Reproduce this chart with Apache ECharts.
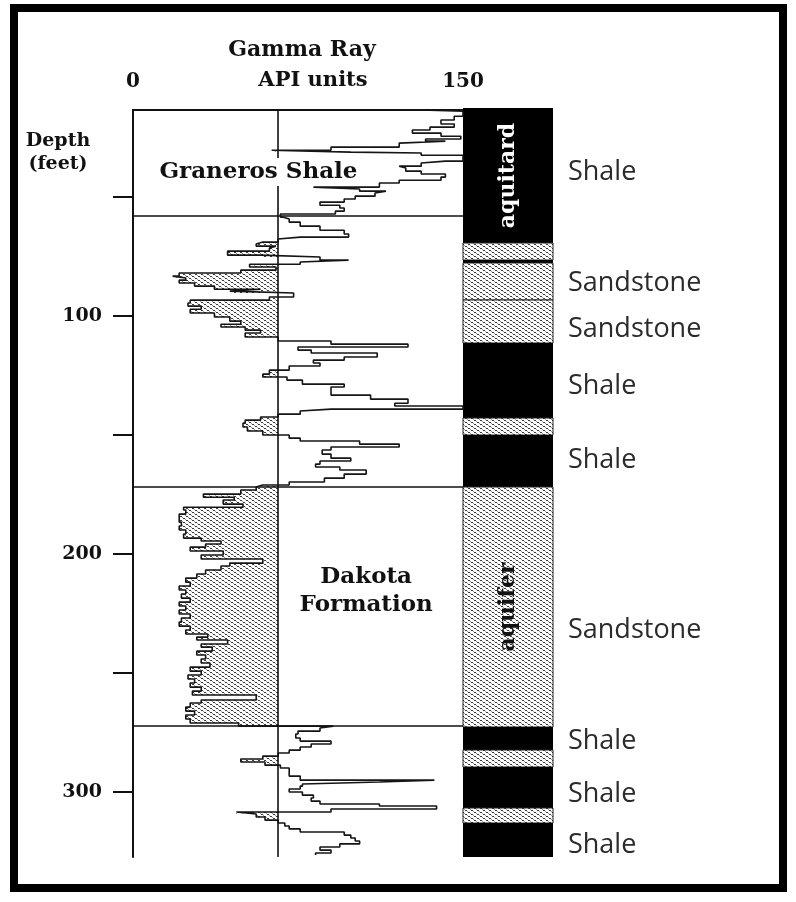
<!DOCTYPE html>
<html>
<head>
<meta charset="utf-8">
<title>Gamma ray log – Graneros Shale and Dakota Formation</title>
<script src="https://cdn.jsdelivr.net/npm/echarts@6.0.0/dist/echarts.min.js"></script>
<style>
  html, body { margin: 0; padding: 0; background: #fff; }
  #chart { width: 796px; height: 902px; }
</style>
</head>
<body>
<div id="chart"></div>
<script>
// Gamma ray reading (API units) at each depth sample (feet)
const grDepth = [
  13.4, 13.9, 14.3, 16.0, 17.6, 19.3, 20.6, 21.8, 23.1, 24.4, 25.6, 26.5, 27.3, 29.0, 30.3,
  31.1, 31.5, 32.4, 33.2, 34.9, 35.7, 37.0, 37.8, 39.1, 40.3, 41.6, 42.9, 44.1, 45.8, 46.6,
  47.5, 48.3, 49.6, 50.8, 52.1, 53.4, 54.6, 55.9, 57.1, 58.4,
  59.2, 60.5, 62.2, 63.9, 65.5, 66.8, 67.6, 68.9, 69.7, 70.6, 71.4, 72.7, 74.4, 75.2, 76.5,
  77.3, 78.2, 79.4, 80.7, 81.9, 83.2, 84.0, 84.9, 86.1, 87.4, 88.7, 89.5, 90.3, 92.0, 93.3,
  94.5, 95.8, 97.1, 98.7, 100.4, 102.1, 103.4, 104.6, 105.9, 107.1, 108.8, 110.5, 111.8, 113.0, 114.3,
  115.5, 117.2, 118.5, 119.7, 121.0, 122.7, 124.4, 125.6, 126.9, 128.6, 129.8, 131.5, 133.2, 134.9, 136.6,
  137.8, 139.1, 139.9, 141.2, 142.4, 143.7, 145.0, 146.6, 148.3, 150.0, 151.3, 152.5, 153.8, 155.0, 156.3,
  158.0, 159.7, 160.9, 162.2, 163.4, 164.7, 166.4, 168.1, 169.7, 171.0,
  171.8, 173.1, 174.8, 176.1, 177.3, 179.0, 180.3, 181.5, 183.2, 184.9, 186.6, 188.2, 189.9, 191.6, 193.3,
  194.5, 195.8, 197.1, 198.7, 200.4, 202.1, 203.8, 205.0, 206.7, 208.4, 210.1, 211.8, 213.4, 215.1, 216.8,
  218.5, 220.2, 221.8, 223.5, 225.2, 226.9, 228.6, 230.3, 231.9, 233.6, 234.9, 236.1, 237.8, 239.1, 240.8,
  242.4, 244.1, 245.8, 247.5, 249.2, 250.8, 252.5, 254.2, 255.9, 257.6, 259.2, 261.3, 262.6, 264.3, 266.0,
  267.6, 269.3, 271.0, 272.3,
  273.1, 274.4, 275.6, 277.3, 278.6, 279.8, 281.1, 282.4, 283.6, 284.9, 286.1, 287.4, 288.7, 289.9, 291.6,
  293.3, 295.0, 295.8, 296.6, 297.5, 298.7, 300.0, 301.3, 302.5, 303.8, 305.0, 305.9, 307.1, 308.4, 309.2,
  310.5, 311.8, 313.0, 314.3, 315.5, 316.8, 318.1, 319.3, 320.6, 321.8, 323.1, 324.4, 325.6, 326.5
];
const grApi = [
  121, 131, 150, 150, 146, 140, 146, 135, 127, 140, 149, 133, 142, 121, 90,
  63, 99, 131, 150, 150, 142, 131, 121, 124, 131, 142, 140, 121, 112, 82,
  103, 115, 110, 101, 96, 85, 94, 96, 92, 67,
  68, 71, 76, 85, 96, 98, 76, 66, 59, 56, 65, 62, 43, 58, 85,
  98, 76, 53, 65, 49, 21, 18, 24, 21, 28, 37, 58, 44, 73, 62,
  26, 25, 31, 26, 37, 44, 49, 40, 51, 58, 51, 66, 90, 125, 75,
  81, 111, 96, 82, 85, 71, 62, 59, 70, 77, 96, 90, 90, 108, 125,
  119, 150, 90, 76, 66, 58, 51, 50, 52, 59, 71, 76, 103, 121, 90,
  86, 90, 99, 85, 83, 94, 106, 96, 87, 71,
  59, 56, 49, 32, 46, 41, 50, 23, 24, 21, 21, 22, 21, 24, 23,
  31, 40, 33, 26, 41, 31, 59, 44, 40, 33, 29, 24, 26, 21, 24,
  22, 26, 21, 24, 21, 26, 22, 21, 26, 24, 34, 29, 43, 31, 36,
  29, 33, 31, 35, 26, 31, 25, 28, 26, 31, 27, 56, 31, 26, 24,
  28, 24, 26, 48,
  91, 85, 75, 74, 76, 90, 81, 76, 71, 66, 59, 49, 60, 67, 71,
  71, 76, 137, 112, 77, 76, 71, 77, 82, 81, 85, 112, 138, 90, 47,
  56, 60, 66, 69, 71, 76, 96, 99, 101, 103, 94, 85, 90, 83
];

// Shale baseline (API); readings left of it are shaded as sand
const shaleBaseline = 66;

// Formation boundaries (feet) and formation names
const formationTops = [58.0, 171.8, 272.3];
const formationNames = ['Graneros Shale', 'Dakota\nFormation'];

// Lithology column
const lithoTop  = [12.6, 69.3, 76.5, 77.9, 93.3, 111.3, 142.9, 150.0, 171.8, 272.7, 282.4, 289.5, 306.7, 313.0];
const lithoBase = [69.3, 76.5, 77.9, 93.3, 111.3, 142.9, 150.0, 171.8, 272.7, 282.4, 289.5, 306.7, 313.0, 327.3];
const lithoRock = ['shale', 'sand', 'shale', 'sand', 'sand', 'shale', 'sand', 'shale', 'sand', 'shale', 'sand', 'shale', 'sand', 'shale'];
const lithoRole = ['aquitard', '', '', '', '', '', '', '', 'aquifer', '', '', '', '', ''];

// Rock names written beside the lithology column
const rockLabelText  = ['Shale', 'Sandstone', 'Sandstone', 'Shale', 'Shale', 'Sandstone', 'Shale', 'Shale', 'Shale'];
const rockLabelDepth = [39.5, 86.1, 105.5, 129.4, 160.5, 231.9, 278.6, 300.8, 322.3];

// Axis ticks and labels
const depthTicks  = [50, 100, 150, 200, 250, 300];
const depthLabels = [100, 200, 300];
const apiTicks    = [0, 150];

const depthMin = 13.4;
const depthMax = 327.3;

const serif = '"DejaVu Serif", "Liberation Serif", serif';

// Stippled sand texture: short staggered dashes
function sandTile() {
  const c = document.createElement('canvas');
  c.width = 6; c.height = 4;
  const g = c.getContext('2d');
  g.fillStyle = '#ffffff';
  g.fillRect(0, 0, 6, 4);
  g.fillStyle = '#3a3a3a';
  [[0, 0], [1, 0], [3, 2], [4, 2]].forEach(p => g.fillRect(p[0], p[1], 1, 1));
  g.fillStyle = '#9a9a9a';
  [[2, 1], [5, 3]].forEach(p => g.fillRect(p[0], p[1], 1, 1));
  return c;
}
const sandFill = { image: sandTile(), repeat: 'repeat' };

// Each stepped interval: [reading, interval top, interval base]
const fillData = [];
for (let i = 1; i < grApi.length; i++) {
  fillData.push([grApi[i], grDepth[i - 1], grDepth[i]]);
}
const curveData = grDepth.map((d, i) => [grApi[i], d]);
const lithoData = lithoTop.map((t, i) => [t, lithoBase[i]]);

const chart = echarts.init(document.getElementById('chart'));

chart.setOption({
  animation: false,
  backgroundColor: '#ffffff',
  grid: [
    { left: 133, top: 110, width: 330, height: 747, containLabel: false, outerBoundsMode: 'none' },
    { left: 463, top: 110, width: 90, height: 747, containLabel: false, outerBoundsMode: 'none' }
  ],
  xAxis: [
    {
      type: 'value', gridIndex: 0, position: 'top', min: 0, max: 150,
      axisLine: { show: true, onZero: false, lineStyle: { color: '#111', width: 2 } },
      axisTick: { show: false },
      splitLine: { show: false },
      axisLabel: {
        customValues: apiTicks, margin: 18, color: '#111',
        fontFamily: serif, fontWeight: 'bold', fontSize: 20
      }
    },
    { type: 'value', gridIndex: 1, min: 0, max: 1, show: false }
  ],
  yAxis: [
    {
      type: 'value', gridIndex: 0, inverse: true, min: depthMin, max: depthMax,
      axisLine: { show: true, onZero: false, lineStyle: { color: '#111', width: 2 } },
      axisTick: { show: true, customValues: depthTicks, length: 20, lineStyle: { color: '#111', width: 2 } },
      axisLabel: {
        customValues: depthLabels, margin: 31, color: '#111',
        fontFamily: serif, fontWeight: 'bold', fontSize: 19
      },
      splitLine: { show: false }
    },
    { type: 'value', gridIndex: 1, inverse: true, min: depthMin, max: depthMax, show: false }
  ],
  graphic: [
    {
      type: 'rect', silent: true,
      shape: { x: 14, y: 8, width: 769, height: 880 },
      style: { fill: 'none', stroke: '#000', lineWidth: 8 }
    },
    {
      type: 'text', x: 302, y: 50,
      style: { text: 'Gamma Ray', font: 'bold 22px ' + serif, fill: '#111',
               align: 'center', verticalAlign: 'middle', textAlign: 'center', textVerticalAlign: 'middle' }
    },
    {
      type: 'text', x: 313, y: 81,
      style: { text: 'API units', font: 'bold 21px ' + serif, fill: '#111',
               align: 'center', verticalAlign: 'middle', textAlign: 'center', textVerticalAlign: 'middle' }
    },
    {
      type: 'text', x: 58, y: 153,
      style: { text: 'Depth\n(feet)', font: 'bold 19px ' + serif, fill: '#111', lineHeight: 23,
               align: 'center', verticalAlign: 'middle', textAlign: 'center', textVerticalAlign: 'middle' }
    }
  ],
  series: [
    {
      // sand shading between the curve and the shale baseline
      type: 'custom', xAxisIndex: 0, yAxisIndex: 0, z: 1, silent: true,
      data: fillData,
      encode: { x: 0, y: [1, 2] },
      renderItem(params, api) {
        const v = api.value(0);
        if (v >= shaleBaseline) return null;
        const p0 = api.coord([v, api.value(1)]);
        const p1 = api.coord([shaleBaseline, api.value(2)]);
        const x = Math.round(p0[0]);
        const y = Math.round(p0[1]);
        return {
          type: 'rect',
          shape: { x: x, y: y, width: Math.round(p1[0]) - x, height: Math.round(p1[1]) - y },
          style: { fill: sandFill }
        };
      }
    },
    {
      // gamma ray curve
      type: 'line', xAxisIndex: 0, yAxisIndex: 0, z: 3,
      data: curveData,
      step: 'end',
      symbol: 'none', showSymbol: false,
      lineStyle: { color: '#151515', width: 1.6 },
      silent: true,
      markLine: {
        silent: true, symbol: ['none', 'none'],
        label: { show: false },
        lineStyle: { color: '#111', width: 1.6, type: 'solid' },
        data: [{ xAxis: shaleBaseline }].concat(formationTops.map(d => ({ yAxis: d })))
      }
    },
    {
      // formation names
      type: 'scatter', xAxisIndex: 0, yAxisIndex: 0, z: 6, silent: true,
      symbolSize: 0,
      itemStyle: { opacity: 1 },
      data: [
        { name: formationNames[0], value: [57, 39.5] },
        { name: formationNames[1], value: [106, 215.5] }
      ],
      label: {
        show: true, position: 'inside', formatter: '{b}',
        color: '#111', fontFamily: serif, fontWeight: 'bold', fontSize: 23, lineHeight: 28,
        backgroundColor: '#ffffff', padding: [0, 2]
      }
    },
    {
      // lithology column
      type: 'custom', xAxisIndex: 1, yAxisIndex: 1, z: 2, silent: true, clip: false,
      data: lithoData,
      encode: { y: [0, 1] },
      renderItem(params, api) {
        const i = params.dataIndex;
        const p0 = api.coord([0, api.value(0)]);
        const p1 = api.coord([1, api.value(1)]);
        const x = Math.round(p0[0]);
        const y = Math.round(p0[1]);
        const w = Math.round(p1[0]) - x;
        const h = Math.round(p1[1]) - y;
        const isSand = lithoRock[i] === 'sand';
        const children = [{
          type: 'rect',
          shape: { x: x, y: y, width: w, height: h },
          style: isSand ? { fill: sandFill, stroke: '#222', lineWidth: 1 } : { fill: '#000' }
        }];
        if (lithoRole[i]) {
          children.push({
            type: 'text', x: x + w / 2, y: y + h / 2, rotation: Math.PI / 2,
            style: {
              text: lithoRole[i], fill: isSand ? '#111' : '#fff',
              font: 'bold 22px ' + serif,
              align: 'center', verticalAlign: 'middle', textAlign: 'center', textVerticalAlign: 'middle'
            }
          });
        }
        return { type: 'group', children: children };
      }
    },
    {
      // rock names
      type: 'scatter', xAxisIndex: 1, yAxisIndex: 1, z: 6, silent: true, clip: false,
      symbolSize: 0,
      itemStyle: { opacity: 1 },
      data: rockLabelDepth.map((d, i) => ({ name: rockLabelText[i], value: [1, d] })),
      label: {
        show: true, position: 'right', distance: 15, formatter: '{b}',
        color: '#2b2b2b', fontFamily: '"Open Sans", "Noto Sans", sans-serif', fontSize: 27
      }
    }
  ]
});
</script>
</body>
</html>
